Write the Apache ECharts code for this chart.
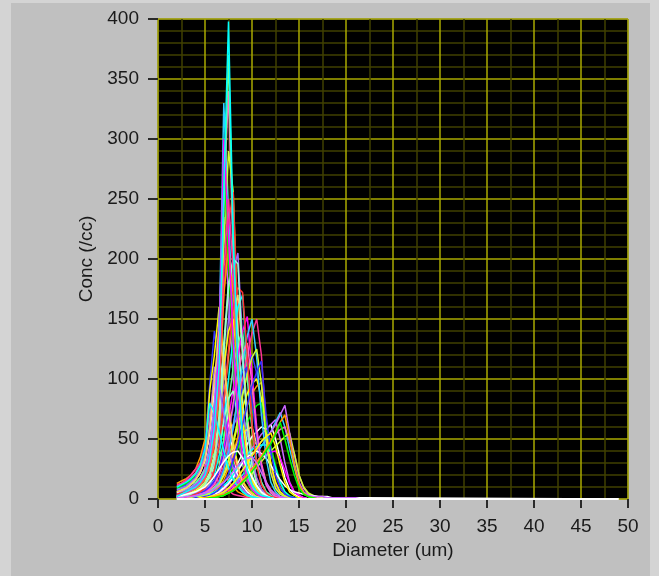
<!DOCTYPE html>
<html><head><meta charset="utf-8">
<script src="https://cdn.jsdelivr.net/npm/echarts@6/dist/echarts.min.js"></script>
<style>html,body{margin:0;padding:0;background:#c0c0c0;}#c{width:659px;height:576px;}</style>
</head><body><div id="c"></div>
<script>
// Diameter bins (um)
const diameters = [2,2.5,3,3.5,4,4.5,5,5.5,6,6.5,7,7.5,8,8.5,9,9.5,10,10.5,11,11.5,12,12.5,13,13.5,14,14.5,15,15.5,16,16.5,17,17.5,18,18.5,19,19.5,20,20.5,21,21.5,22,49];
const xTicks = [0,5,10,15,20,25,30,35,40,45,50];
const yTicks = [0,50,100,150,200,250,300,350,400];
// Concentration spectra (/cc), one per sample
const s01 = [12,13,15,18,22,30,45,70,98,85,62,40,24,14,8,5,3,2,1,1,0];
const s02 = [8,10,12,15,20,28,44,95,140,110,80,50,30,18,10,6,4,2,1,1,0];
const s03 = [6,8,10,13,17,24,36,90,120,160,120,80,48,28,15,9,5,3,2,1,0];
const s04 = [13,15,17,20,25,35,50,45,38,30,22,15,10,6,4,2,1,1,0];
const s05 = [9,11,13,16,20,27,38,60,85,70,52,34,20,12,7,4,2,1,0];
const s06 = [5,7,9,12,16,22,32,55,90,120,95,62,36,20,11,6,3,2,1,0];
const s07 = [4,6,8,10,13,18,26,45,80,150,235,170,100,55,28,14,7,4,2,1,0];
const s08 = [3,5,7,9,12,16,24,40,72,135,330,240,140,75,36,18,9,5,3,1,0];
const s09 = [3,4,6,8,11,15,22,36,64,118,250,340,200,100,46,22,11,6,3,1,0];
const s10 = [2,3,5,7,9,13,19,30,55,100,210,290,256,140,70,32,15,7,4,2,0];
const s11 = [2,3,4,6,8,11,16,26,46,85,170,230,256,150,80,38,18,9,4,2,1,0];
const s12 = [1,2,3,5,7,10,14,22,38,70,130,180,200,140,82,42,20,10,5,2,1,0];
const s13 = [1,2,3,4,6,8,12,18,30,55,100,150,190,205,130,70,34,16,8,4,2,1,0];
const s14 = [1,1,2,4,5,7,10,15,25,45,80,120,155,170,120,68,34,16,8,4,2,1,0];
const s15 = [1,1,2,3,4,6,8,12,20,36,64,100,135,160,170,110,60,30,14,6,3,1,0];
const s16 = [1,1,2,3,4,5,7,10,16,28,50,80,110,130,140,100,58,30,14,6,3,1,0];
const s17 = [0,1,1,2,3,4,6,9,14,24,42,66,92,118,140,152,105,60,30,14,6,3,1,0];
const s18 = [0,0,1,1,2,3,4,6,10,16,28,44,62,82,100,120,138,150,120,62,28,12,5,2,1,0];
const s19 = [0,0,1,1,2,3,4,6,9,15,25,40,58,76,94,110,120,105,80,45,22,10,4,2,1,0];
const s20 = [0,0,0,1,1,2,3,5,8,12,20,32,46,62,76,88,96,100,84,56,30,14,6,3,1,0];
const s21 = [0,0,0,1,1,2,3,4,6,10,16,26,38,52,66,78,88,94,97,62,40,22,10,4,2,1,0];
const s22 = [0,0,0,0,1,1,2,3,5,8,13,20,30,42,54,64,72,78,80,60,44,28,14,6,3,1,0];
const s23 = [0,0,0,0,1,1,2,3,4,6,10,15,22,30,38,46,52,56,60,58,62,50,34,18,8,4,2,1,0];
const s24 = [0,0,0,0,0,1,1,2,3,5,8,12,17,23,30,36,42,48,54,58,62,66,50,30,14,6,3,1,0];
const s25 = [0,0,0,0,0,0,1,1,2,3,5,8,11,15,20,26,32,38,44,50,56,64,72,60,42,26,12,5,2,1,0];
const s26 = [0,0,0,0,0,0,1,1,2,3,4,6,9,12,16,21,26,31,36,42,48,54,58,60,48,38,20,9,4,2,1,0];
const s27 = [0,0,0,0,0,0,0,1,1,2,3,5,7,10,13,17,21,26,31,36,40,44,48,52,55,38,20,10,5,3,2,1,0];
const s28 = [4,5,6,8,10,13,18,28,42,55,60,50,36,24,14,8,4,2,1,0];
const s29 = [2,3,4,5,7,9,12,18,28,44,66,84,90,70,46,26,13,6,3,1,0];
const s30 = [1,2,3,4,5,6,8,11,16,24,36,50,62,68,70,54,34,18,8,3,1,0];
const s31 = [0,1,1,2,3,4,5,7,10,14,20,28,38,48,55,58,60,46,28,14,6,2,1,0];
const s32 = [0,0,1,1,2,2,3,4,6,8,11,15,20,26,32,37,41,44,45,45,38,26,14,6,2,1,0];
const s33 = [8,9,10,12,14,18,24,32,38,40,34,26,18,11,6,3,1,0];
const s34 = [0,0,0,0,1,1,2,2,3,4,6,8,11,14,18,22,26,30,34,37,39,40,34,24,13,6,3,1,0];
const s35 = [11,13,16,20,25,30,28,24,19,14,10,7,4,3,2,1,0];
const s36 = [1,1,2,3,4,5,7,10,15,24,38,56,76,94,106,110,82,50,26,12,5,2,1,0];
const s37 = [2,3,4,5,7,9,13,20,34,62,110,140,150,110,66,34,16,8,3,1,0];
const s38 = [3,4,5,7,9,12,17,27,48,90,170,210,170,100,52,26,12,6,3,1,0];
const s39 = [3,4,6,8,10,14,20,32,58,112,280,200,120,64,30,15,7,3,2,1,0];
const s40 = [0,0,0,0,1,1,2,3,4,6,9,13,18,24,30,35,38,40,38,34,28,22,16,11,8,6,5,4,3,3,2,2,2,1,1,1,1,1,1,1,1,0];
const s41 = [0,0,0,0,0,1,1,2,3,4,6,9,13,18,24,30,36,42,48,52,56,62,70,78,55,30,14,6,3,2,2,2,1,1,1,1,1,1,1,0];
const s42 = [0,0,1,1,2,3,4,6,9,14,24,40,60,86,112,136,150,118,70,34,14,6,2,1,0];
const s43 = [0,1,1,2,3,4,5,8,12,20,34,54,80,104,122,130,96,56,28,12,5,2,1,0];
const s44 = [0,0,0,1,1,2,3,5,8,12,20,32,48,66,86,104,118,125,96,50,22,9,4,2,1,0];
const s45 = [1,1,2,3,4,6,9,14,24,44,80,124,160,176,172,120,62,28,12,5,2,1,0];
const s46 = [1,2,3,4,6,8,12,20,34,64,120,176,200,196,120,60,28,12,5,2,1,0];
const s47 = [7,9,11,14,18,25,36,62,110,96,70,44,26,15,8,4,2,1,0];
const s48 = [6,7,9,12,16,22,33,58,100,140,112,74,44,26,14,8,4,2,1,0];
const s49 = [10,12,14,17,21,28,42,80,72,56,40,26,16,10,6,3,2,1,0];
const s50 = [2,3,5,7,9,13,19,32,56,104,240,370,210,104,48,22,10,5,2,1,0];
const s51 = [3,4,6,8,11,15,22,36,66,126,300,220,130,70,34,16,8,4,2,1,0];
const s52 = [2,3,5,7,9,13,18,30,52,96,190,250,190,110,56,26,12,6,3,1,0];
const s53 = [0,0,0,0,1,1,2,3,5,8,13,21,32,46,62,78,94,106,115,70,40,20,9,4,2,1,0];
const s54 = [0,0,0,0,0,1,1,2,3,4,6,9,13,18,24,30,36,42,48,52,55,44,28,14,6,3,1,0];
const s55 = [0,0,0,0,0,0,1,1,2,3,4,6,8,11,15,20,25,30,36,42,48,56,64,70,50,28,12,5,2,1,0];
const s56 = [0,0,0,0,0,0,0,1,1,2,3,5,7,10,14,18,23,28,34,40,46,54,64,50,34,20,9,4,2,1,0];
const s57 = [2,3,4,5,6,8,10,14,19,25,31,36,39,40,34,26,18,11,6,3,1,0];
const s58 = [1,1,2,2,3,4,5,6,8,11,14,18,23,28,32,34,35,30,22,14,8,4,2,1,0];
const s59 = [2,4,6,8,10,14,20,34,60,110,260,398,220,110,50,24,12,6,3,2,1,0];
const s60 = [0,0,0,0,0,0,0,0,0,0,0,0,0,0,0,0,0,0,0,0,0,0,0,0,0,0,0,0,0,0,0,0,0,0,0,0,0,0,0,0,0,0];
const samples = [s01,s02,s03,s04,s05,s06,s07,s08,s09,s10,s11,s12,s13,s14,s15,s16,s17,s18,s19,s20,s21,s22,s23,s24,s25,s26,s27,s28,s29,s30,s31,s32,s33,s34,s35,s36,s37,s38,s39,s40,s41,s42,s43,s44,s45,s46,s47,s48,s49,s50,s51,s52,s53,s54,s55,s56,s57,s58,s59,s60];

const palette = ['#ff3399','#3333ff','#ffff00','#ff9900','#00ff00','#ffffff','#cc66ff','#33ccff','#ff66cc','#ccff33','#ff3333','#99ffcc','#9966ff','#ffcc66','#00ffff','#66ff99','#ff00ff'];

const FONT = 'Liberation Sans';
const last = samples.length - 1;
const chart = echarts.init(document.getElementById('c'), null, {renderer:'canvas'});
const series = samples.map((vals, k) => ({
  type: 'line',
  data: vals.map((v, i) => [diameters[i], v]),
  showSymbol: false,
  symbol: 'none',
  silent: true,
  animation: false,
  clip: k !== last,
  z: k === last ? 5 : 2,
  lineStyle: { width: k === last ? 2 : 1.5, color: k === last ? '#ffffff' : (k === last - 1 ? '#00ffff' : palette[k % palette.length]) }
}));

const axisFont = { fontFamily: FONT, fontSize: 19, color: '#1a1a1a' };
chart.setOption({
  backgroundColor: '#c0c0c0',
  animation: false,
  graphic: [
    { type: 'rect', shape: { x: 0, y: 0, width: 11, height: 576 }, style: { fill: '#d4d4d4' }, z: -10 },
    { type: 'rect', shape: { x: 650, y: 0, width: 9, height: 576 }, style: { fill: '#d4d4d4' }, z: -10 },
    { type: 'rect', shape: { x: 0, y: 0, width: 659, height: 3 }, style: { fill: '#d4d4d4' }, z: -10 }
  ],
  grid: { left: 158, right: 31, top: 19, bottom: 77, show: true, backgroundColor: '#000000', borderColor: '#6a6a6a', borderWidth: 1 },
  xAxis: {
    type: 'value', min: 0, max: 50, interval: 5,
    offset: 5,
    name: 'Diameter (um)', nameLocation: 'middle', nameGap: 37,
    nameTextStyle: axisFont,
    axisLine: { show: true, lineStyle: { color: 'rgba(0,0,0,0)' } },
    axisTick: { show: true, length: 9, lineStyle: { color: '#2a2a2a', width: 2 } },
    axisLabel: Object.assign({ margin: 13, formatter: v => xTicks.includes(v) ? String(v) : '' }, axisFont),
    splitLine: { show: true, lineStyle: { color: '#a8a800', width: 1.5 } },
    minorTick: { show: false, splitNumber: 2 },
    minorSplitLine: { show: true, lineStyle: { color: '#404000', width: 1.5 } }
  },
  yAxis: {
    type: 'value', min: 0, max: 400, interval: 50,
    offset: 5,
    name: 'Conc (/cc)', nameLocation: 'middle', nameGap: 56,
    nameTextStyle: axisFont,
    axisLine: { show: true, lineStyle: { color: 'rgba(0,0,0,0)' } },
    axisTick: { show: true, length: 10, lineStyle: { color: '#2a2a2a', width: 2 } },
    axisLabel: Object.assign({ margin: 14, formatter: v => yTicks.includes(v) ? String(v) : '' }, axisFont),
    splitLine: { show: true, lineStyle: { color: '#a8a800', width: 1.5 } },
    minorTick: { show: false, splitNumber: 5 },
    minorSplitLine: { show: true, lineStyle: { color: '#404000', width: 1.5 } }
  },
  series: series
});
</script>
</body></html>
